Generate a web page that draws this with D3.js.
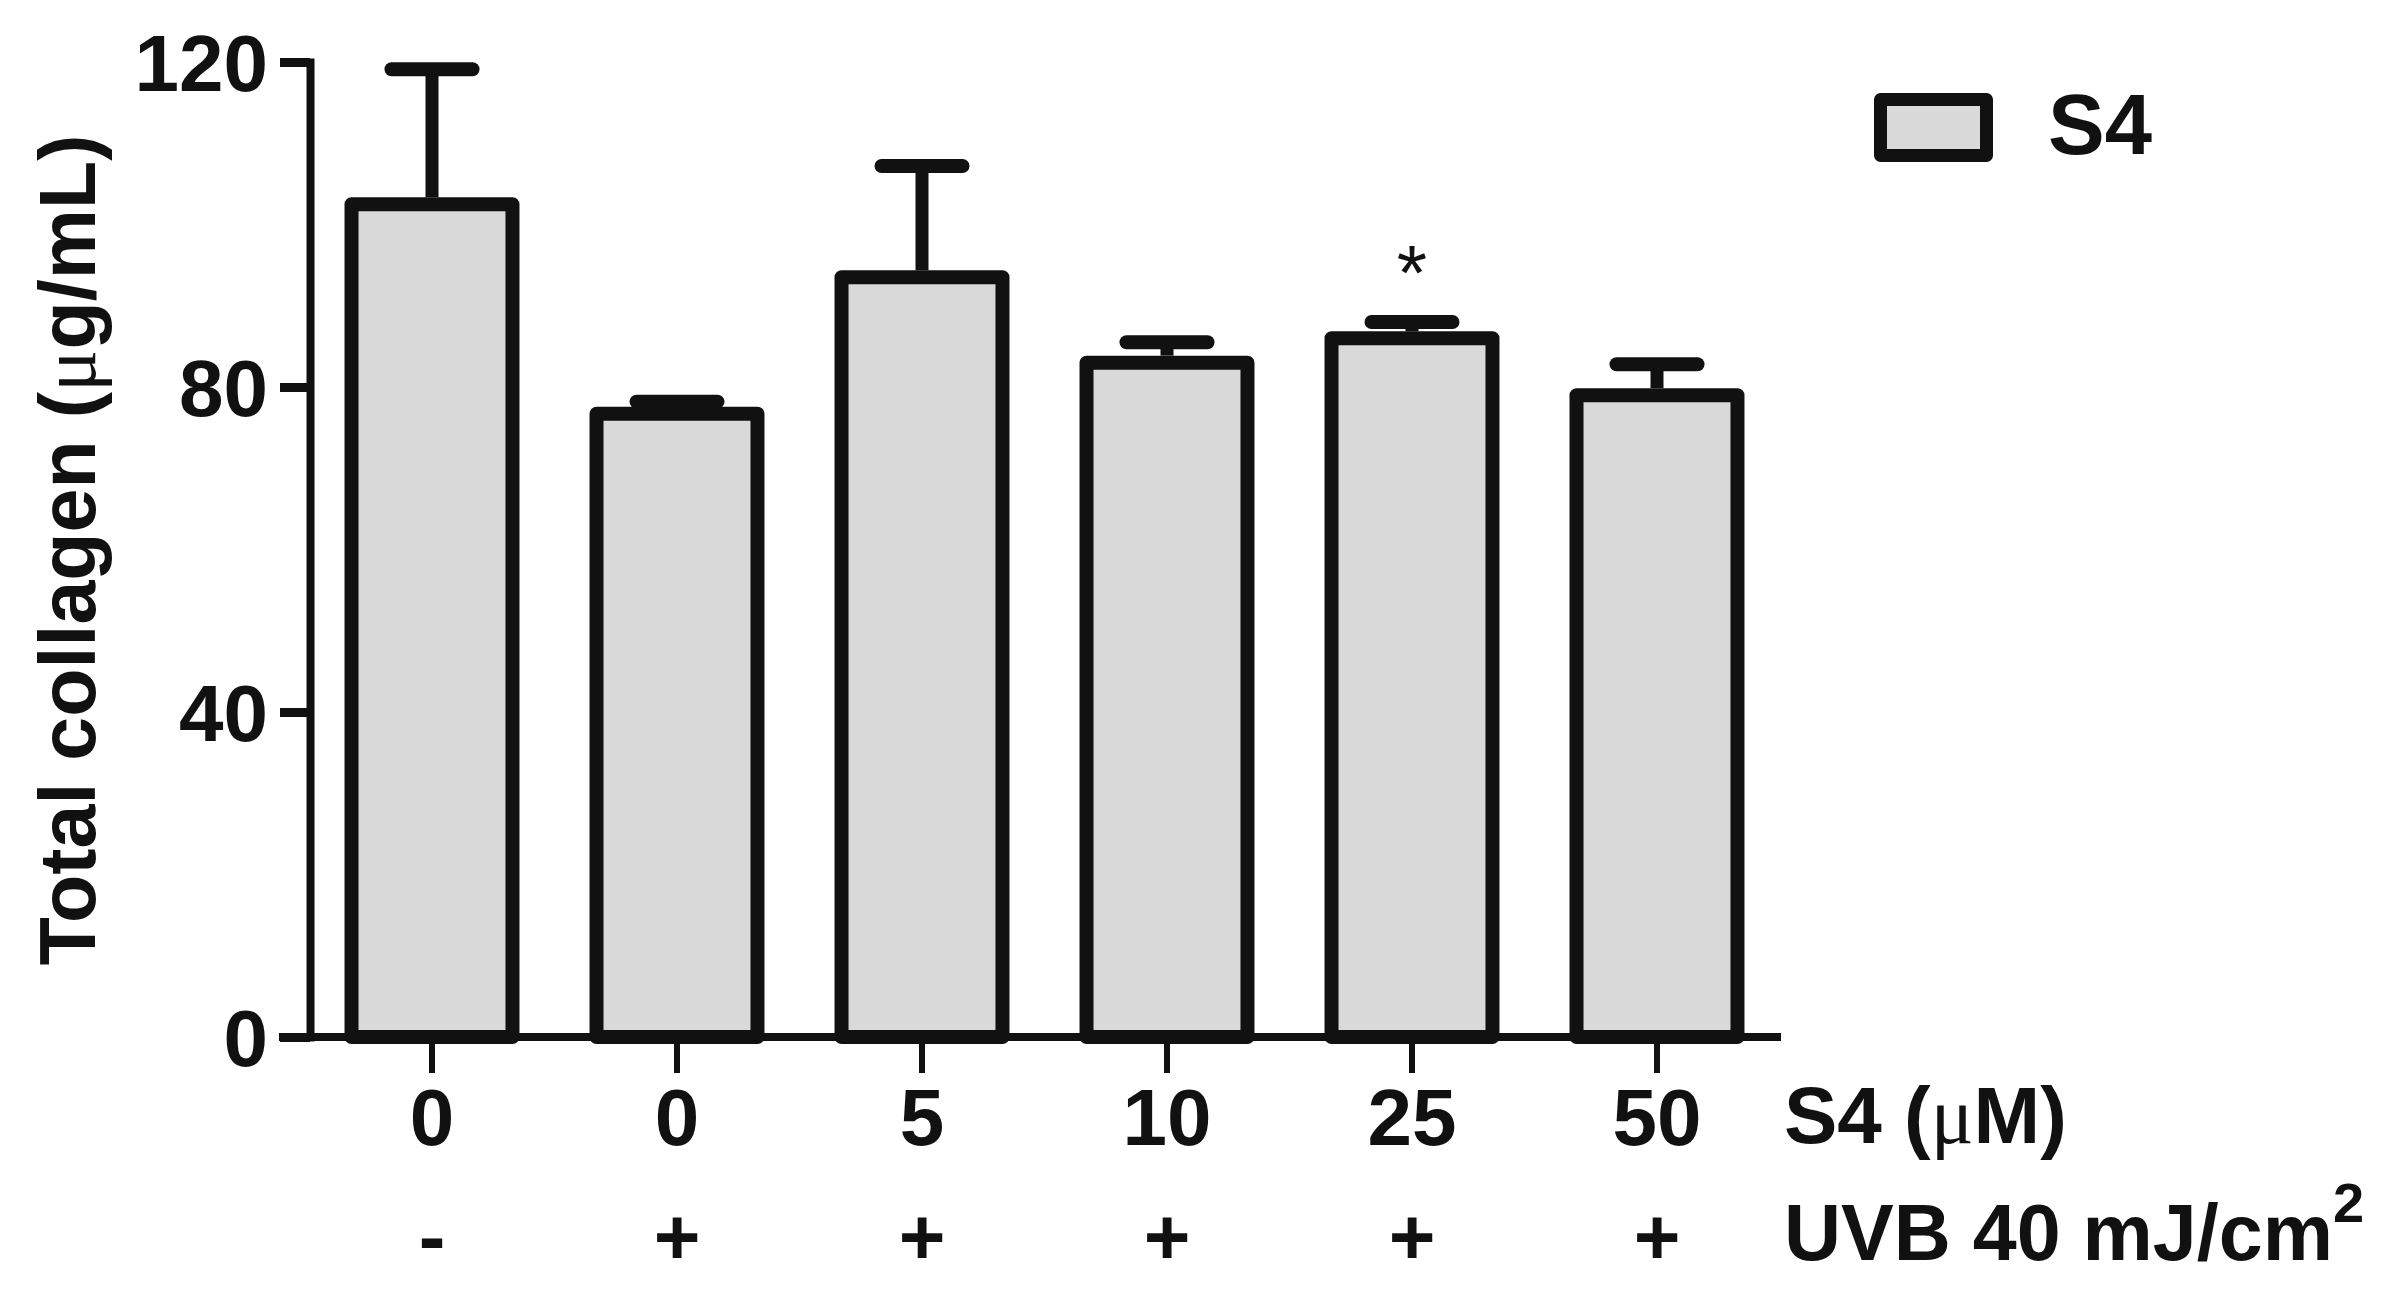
<!DOCTYPE html>
<html>
<head>
<meta charset="utf-8">
<script src="https://cdn.jsdelivr.net/npm/d3@7"></script>
<style>
  html, body { margin: 0; padding: 0; background: #fff; }
  svg { display: block; }
  text { font-family: "Liberation Sans", Arial, sans-serif; font-weight: bold; fill: #111; }
</style>
</head>
<body>
<svg id="chart" width="2393" height="1299"></svg>
<script>
// ---- data ----
const concLabels = ["0", "0", "5", "10", "25", "50"];
const uvbLabels  = ["-", "+", "+", "+", "+", "+"];
const means      = [102.5, 76.7, 93.5, 83.0, 86.0, 79.0];
const errors     = [16.6, 1.5, 13.7, 2.5, 2.0, 3.8];
const significance = ["", "", "", "", "*", ""];
const yTicks     = [0, 40, 80, 120];
const seriesName = "S4";

// ---- layout ----
const W = 2393, H = 1299;
const ink = "#111";
const fillGrey = "#d9d9d9";
const svg = d3.select("#chart");
svg.append("rect").attr("width", W).attr("height", H).attr("fill", "#fff");

const idx = d3.range(means.length);
const x = d3.scaleBand().domain(idx).range([309.5, 1779.5]).paddingInner(0.343).paddingOuter(0.1715);
const y = d3.scaleLinear().domain([0, 120]).range([1037, 62]);

const axisX = 310;
const yTickLen = 30;

// bars
const g = svg.append("g");
g.selectAll("rect.bar").data(idx).join("rect")
  .attr("class", "bar")
  .attr("x", i => x(i))
  .attr("y", i => y(means[i]))
  .attr("width", x.bandwidth())
  .attr("height", i => y(0) - y(means[i]))
  .attr("fill", fillGrey)
  .attr("stroke", ink)
  .attr("stroke-width", 14)
  .attr("stroke-linejoin", "round");

// error bars
const capHalf = 40.5;
g.selectAll("line.stem").data(idx).join("line")
  .attr("x1", i => x(i) + x.bandwidth() / 2)
  .attr("x2", i => x(i) + x.bandwidth() / 2)
  .attr("y1", i => y(means[i]) - 7)
  .attr("y2", i => y(means[i] + errors[i]))
  .attr("stroke", ink).attr("stroke-width", 13);
g.selectAll("line.cap").data(idx).join("line")
  .attr("x1", i => x(i) + x.bandwidth() / 2 - capHalf)
  .attr("x2", i => x(i) + x.bandwidth() / 2 + capHalf)
  .attr("y1", i => y(means[i] + errors[i]))
  .attr("y2", i => y(means[i] + errors[i]))
  .attr("stroke", ink).attr("stroke-width", 14).attr("stroke-linecap", "round");

// significance
g.selectAll("text.sig").data(idx.filter(i => significance[i])).join("text")
  .attr("x", i => x(i) + x.bandwidth() / 2)
  .attr("y", i => y(means[i] + errors[i]) - 22)
  .attr("text-anchor", "middle")
  .attr("font-size", 78)
  .style("font-weight", "normal")
  .text(i => significance[i]);

// y axis
const yAxis = d3.axisLeft(y).tickValues(yTicks).tickSize(yTickLen).tickSizeOuter(yTickLen).tickPadding(12);
const gy = svg.append("g").attr("transform", `translate(${axisX},0)`).call(yAxis);
gy.selectAll("path.domain").attr("stroke", ink).attr("stroke-width", 8).attr("fill", "none");
gy.selectAll(".tick line").attr("stroke", ink).attr("stroke-width", 9);
gy.selectAll(".tick text").attr("font-size", 80).attr("fill", ink)
  .attr("font-family", "Liberation Sans, Arial, sans-serif").attr("font-weight", "bold")
  .attr("dy", "0.36em");

// x axis baseline
svg.append("line")
  .attr("x1", axisX - yTickLen - 1).attr("x2", 1781)
  .attr("y1", y(0)).attr("y2", y(0))
  .attr("stroke", ink).attr("stroke-width", 8);

// x ticks
const xCenter = i => x(i) + x.bandwidth() / 2;
svg.selectAll("line.xt").data(idx).join("line")
  .attr("x1", xCenter).attr("x2", xCenter)
  .attr("y1", y(0)).attr("y2", y(0) + 36)
  .attr("stroke", ink).attr("stroke-width", 6);

// x labels rows
svg.selectAll("text.conc").data(idx).join("text")
  .attr("x", xCenter).attr("y", 1145)
  .attr("text-anchor", "middle").attr("font-size", 80)
  .text(i => concLabels[i]);
svg.selectAll("text.uvb").data(idx).join("text")
  .attr("x", xCenter).attr("y", 1264)
  .attr("text-anchor", "middle").attr("font-size", 80)
  .text(i => uvbLabels[i]);

// row titles
const t1 = svg.append("text").attr("x", 1784).attr("y", 1143).attr("font-size", 80);
t1.append("tspan").text("S4 (");
t1.append("tspan").style("font-family", "Liberation Serif, serif").style("font-weight", "normal").text("μ");
t1.append("tspan").text("M)");
const t2 = svg.append("text").attr("x", 1784).attr("y", 1260).attr("font-size", 79);
t2.append("tspan").text("UVB 40 mJ/cm");
t2.append("tspan").attr("font-size", 56).attr("dy", -38).text("2");

// y label
const yl = svg.append("text")
  .attr("transform", "translate(95,550) rotate(-90)")
  .attr("text-anchor", "middle").attr("font-size", 79);
yl.append("tspan").text("Total collagen (");
yl.append("tspan").style("font-family", "Liberation Serif, serif").style("font-weight", "normal").text("μ");
yl.append("tspan").text("g/mL)");

// legend
svg.append("rect")
  .attr("x", 1880.5).attr("y", 99.5).attr("width", 106).attr("height", 56)
  .attr("fill", fillGrey).attr("stroke", ink).attr("stroke-width", 13).attr("stroke-linejoin", "round");
svg.append("text").attr("x", 2048).attr("y", 154).attr("font-size", 85).text(seriesName);
</script>
</body>
</html>
